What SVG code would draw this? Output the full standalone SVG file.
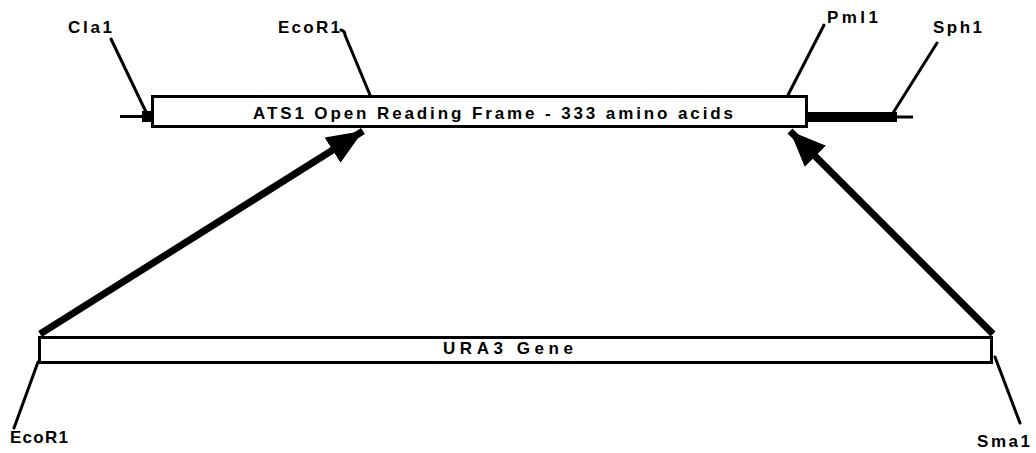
<svg xmlns="http://www.w3.org/2000/svg" width="1036" height="453" viewBox="0 0 1036 453">
<style>
.lbl{font-family:"Liberation Sans",Arial,sans-serif;font-weight:bold;font-size:17px;fill:#000}
.box{fill:#fff;stroke:#000;stroke-width:3}
.tick{stroke:#000;stroke-width:3;fill:none;stroke-linecap:round}
.arrow{stroke:#000;stroke-width:7;fill:none;marker-end:url(#head)}
</style>
<defs>
<marker id="head" markerUnits="userSpaceOnUse" markerWidth="38" markerHeight="34" viewBox="0 -17 38 34" refX="36" refY="0" orient="auto">
<path d="M0,-15 L36,0 L0,15 Z" fill="#000"/>
</marker>
</defs>
<rect width="1036" height="453" fill="#fff"/>
<g id="ats1-orf">
<line x1="120" y1="116.5" x2="150" y2="116.5" stroke="#000" stroke-width="3"/>
<rect x="142" y="111" width="10" height="11" fill="#000"/>
<rect x="806" y="112" width="91" height="10" fill="#000"/>
<line x1="895" y1="117" x2="913" y2="117" stroke="#000" stroke-width="3"/>
<rect class="box" x="152.5" y="96.5" width="654" height="30"/>
<text class="lbl" x="253" y="118.5" font-size="18" textLength="480" lengthAdjust="spacing">ATS1 Open Reading Frame - 333 amino acids</text>
</g>
<g id="ura3-gene">
<rect class="box" x="39.5" y="337.5" width="952" height="25"/>
<text class="lbl" x="443" y="353.5" font-size="18" textLength="130" lengthAdjust="spacing">URA3 Gene</text>
</g>
<g id="site-cla1">
<text class="lbl" x="68" y="33" textLength="44" lengthAdjust="spacing">Cla1</text>
<line class="tick" x1="111" y1="39" x2="146" y2="112"/>
</g>
<g id="site-ecor1-top">
<text class="lbl" x="278" y="33" textLength="62" lengthAdjust="spacing">EcoR1</text>
<path class="tick" d="M341,30 Q345,31 345,35 L370,95"/>
</g>
<g id="site-pml1">
<text class="lbl" x="827" y="23" textLength="51" lengthAdjust="spacing">Pml1</text>
<line class="tick" x1="824" y1="25" x2="788" y2="95"/>
</g>
<g id="site-sph1">
<text class="lbl" x="933" y="33" textLength="49" lengthAdjust="spacing">Sph1</text>
<line class="tick" x1="937" y1="43" x2="893" y2="113"/>
</g>
<g id="site-ecor1-bottom">
<text class="lbl" x="10" y="443" textLength="58" lengthAdjust="spacing">EcoR1</text>
<line class="tick" x1="38" y1="362" x2="14" y2="428"/>
</g>
<g id="site-sma1">
<text class="lbl" x="977" y="447" textLength="53" lengthAdjust="spacing">Sma1</text>
<line class="tick" x1="995" y1="357" x2="1020" y2="423"/>
</g>
<g id="connectors">
<line class="arrow" x1="40" y1="334" x2="363" y2="131"/>
<line class="arrow" x1="993" y1="334" x2="790" y2="131"/>
</g>
</svg>
